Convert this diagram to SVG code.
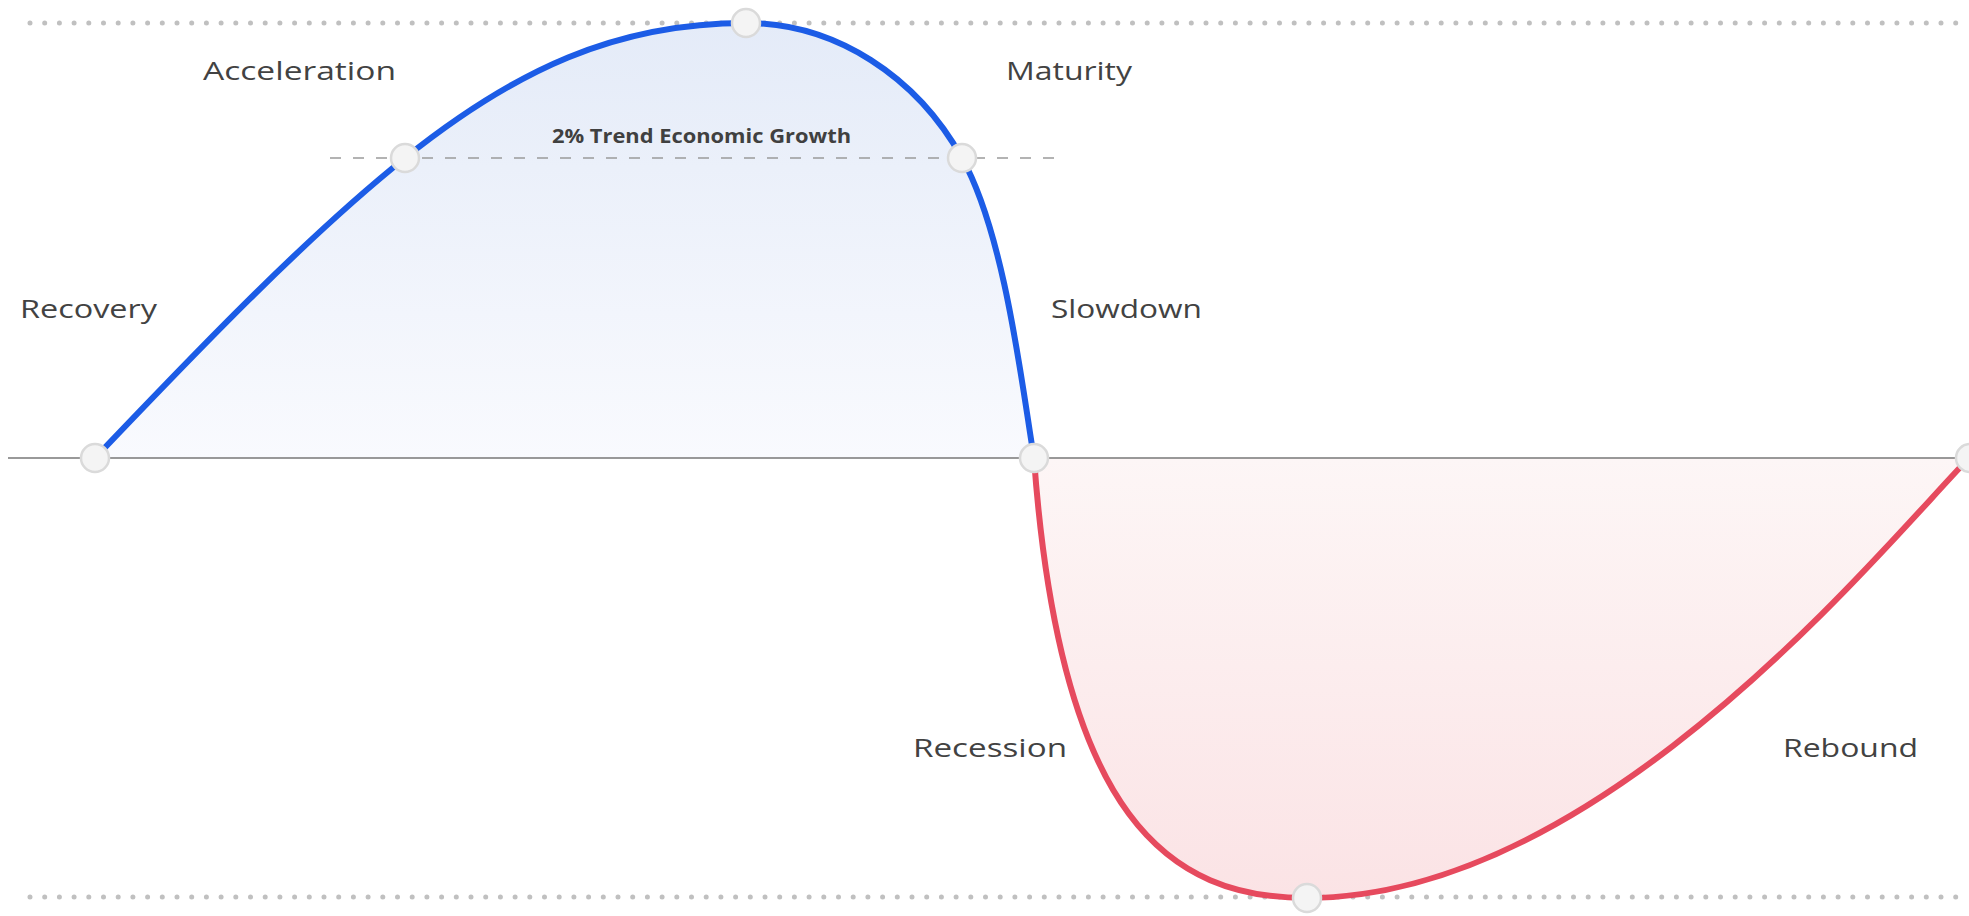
<svg xmlns="http://www.w3.org/2000/svg" width="1969" height="916" viewBox="0 0 1969 916">
  <defs>
    <linearGradient id="gradUp" x1="0" y1="23" x2="0" y2="458" gradientUnits="userSpaceOnUse">
      <stop offset="0" stop-color="#e4ebf8"/>
      <stop offset="1" stop-color="#f9fafe"/>
    </linearGradient>
    <linearGradient id="gradDown" x1="0" y1="458" x2="0" y2="898" gradientUnits="userSpaceOnUse">
      <stop offset="0" stop-color="#fdf6f6"/>
      <stop offset="1" stop-color="#fbe3e5"/>
    </linearGradient>
    <style>
      .dots { stroke: #c0c0c0; stroke-width: 5; stroke-linecap: round; stroke-dasharray: 0 14.7; fill: none; }
      .axis { stroke: #777777; stroke-width: 1.6; fill: none; }
      .trend { stroke: #9a9a9a; stroke-width: 1.6; stroke-dasharray: 11 12; fill: none; }
      .up { stroke: #1c5ce6; stroke-width: 6; fill: none; stroke-linecap: round; }
      .down { stroke: #e64a5e; stroke-width: 6; fill: none; stroke-linecap: round; }
      .node { fill: #f4f4f4; stroke: #dadada; stroke-width: 2.5; }
      .label { font-family: "Open Sans", "Liberation Sans", sans-serif; font-size: 25px; fill: #424242; }
      .trendlabel { font-family: "Open Sans", "Liberation Sans", sans-serif; font-size: 19px; font-weight: 700; fill: #404040; }
    </style>
  </defs>

  <rect x="0" y="0" width="1969" height="916" fill="#ffffff"/>

  <!-- shaded areas between the cycle curve and the zero line -->
  <path d="M95,458 C195,353 305,238 405,158 C515,70 616,23 746,23 C836,23 917,77 962,158 C1005,235 1022,386 1034,458 Z" fill="url(#gradUp)"/>
  <path d="M1034,458 C1060,820 1170,898 1307,898 C1600,898 1880,550 1969,458 Z" fill="url(#gradDown)"/>

  <!-- reference lines -->
  <g id="guides">
    <line class="dots" x1="30" y1="23" x2="1969" y2="23"/>
    <line class="dots" x1="30" y1="897" x2="1969" y2="897"/>
    <line class="axis" x1="8" y1="458" x2="1969" y2="458"/>
    <line class="trend" x1="330" y1="158" x2="1062" y2="158"/>
  </g>

  <!-- cycle curve -->
  <g id="connectors">
    <path id="expansion" class="up" d="M95,458 C195,353 305,238 405,158 C515,70 616,23 746,23 C836,23 917,77 962,158 C1005,235 1022,386 1034,458"/>
    <path id="contraction" class="down" d="M1034,458 C1060,820 1170,898 1307,898 C1600,898 1880,550 1969,458"/>
  </g>

  <!-- phase points -->
  <g id="node-start"><circle class="node" cx="95" cy="458" r="14"/></g>
  <g id="node-trend-up"><circle class="node" cx="405" cy="158" r="14"/></g>
  <g id="node-peak"><circle class="node" cx="746" cy="23" r="14"/></g>
  <g id="node-trend-down"><circle class="node" cx="962" cy="158" r="14"/></g>
  <g id="node-cross"><circle class="node" cx="1034" cy="458" r="14"/></g>
  <g id="node-trough"><circle class="node" cx="1307" cy="898" r="14"/></g>
  <g id="node-end"><circle class="node" cx="1970" cy="458" r="14"/></g>

  <!-- phase labels -->
  <g id="labels">
    <text class="label" x="203" y="80" textLength="193" lengthAdjust="spacingAndGlyphs">Acceleration</text>
    <text class="label" x="1006" y="80" textLength="126" lengthAdjust="spacingAndGlyphs">Maturity</text>
    <text class="label" x="20" y="318" textLength="137" lengthAdjust="spacingAndGlyphs">Recovery</text>
    <text class="label" x="1051" y="318" textLength="151" lengthAdjust="spacingAndGlyphs">Slowdown</text>
    <text class="label" x="913" y="757" textLength="154" lengthAdjust="spacingAndGlyphs">Recession</text>
    <text class="label" x="1783" y="757" textLength="135" lengthAdjust="spacingAndGlyphs">Rebound</text>
    <text class="trendlabel" x="552" y="143" textLength="299" lengthAdjust="spacingAndGlyphs">2% Trend Economic Growth</text>
  </g>
</svg>
